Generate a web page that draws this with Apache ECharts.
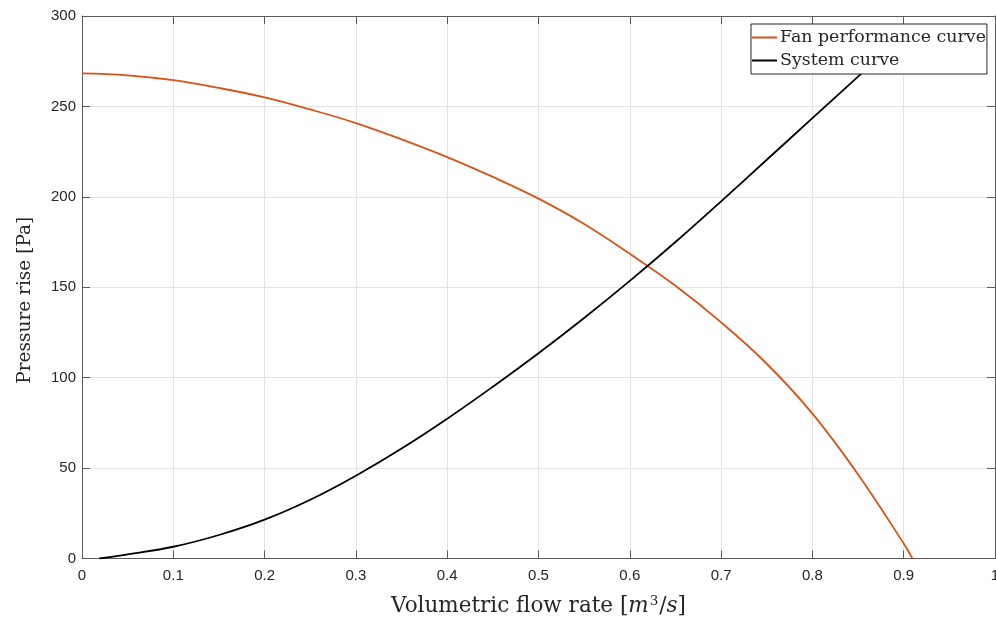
<!DOCTYPE html>
<html>
<head>
<meta charset="utf-8">
<script src="https://cdn.jsdelivr.net/npm/echarts@6/dist/echarts.min.js"></script>
<style>
  html, body { margin: 0; padding: 0; background: #fff; }
  #chart { width: 996px; height: 619px; }
</style>
</head>
<body>
<div id="chart"></div>
<script>
// Fan performance curve: flow rate [m^3/s] vs pressure rise [Pa]
var fanFlow = [0, 0.05, 0.1, 0.15, 0.2, 0.25, 0.3, 0.35, 0.4, 0.45, 0.5, 0.55, 0.6, 0.65, 0.7, 0.75, 0.8, 0.85, 0.9, 0.9095];
var fanPressure = [268.3, 267.2, 264.5, 260.2, 255, 248.3, 240.8, 231.8, 222, 211, 199, 185, 168.5, 150.8, 130.6, 107.7, 80.1, 46.5, 8.3, 0];

// System curve
var sysFlow = [0.019, 0.05, 0.1, 0.15, 0.2, 0.25, 0.3, 0.35, 0.4, 0.45, 0.5, 0.55, 0.6, 0.65, 0.7, 0.75, 0.8, 0.85, 0.9];
var sysPressure = [0, 2.3, 6.5, 13, 21.5, 32.5, 45.8, 60.8, 77.3, 95, 113.5, 133, 153.5, 175, 197.5, 220.5, 243.5, 266.5, 289.5];

var xTicks = [0, 0.1, 0.2, 0.3, 0.4, 0.5, 0.6, 0.7, 0.8, 0.9, 1];
var yTicks = [0, 50, 100, 150, 200, 250, 300];

var seriesNames = ['Fan performance curve', 'System curve'];

function pairs(xs, ys) {
  return xs.map(function (x, i) { return [x, ys[i]]; });
}

var axisColor = '#5a5a5a';
var labelFont = { fontFamily: 'Liberation Sans', fontSize: 15, color: '#262626' };
var serif = 'DejaVu Serif';

function xAxisBase(pos, showLabels) {
  return {
    type: 'value', position: pos, min: xTicks[0], max: xTicks[xTicks.length - 1], interval: 0.1,
    axisLine: { show: true, onZero: false, lineStyle: { color: axisColor, width: 1 } },
    axisTick: { show: true, inside: true, length: 8, lineStyle: { color: axisColor } },
    axisLabel: Object.assign({ show: showLabels, margin: 10,
      formatter: function (v) { return v === 0 ? '0' : (v === 1 ? '1' : v.toFixed(1)); } }, labelFont),
    splitLine: { show: showLabels, lineStyle: { color: '#e3e3e3', width: 1 } }
  };
}
function yAxisBase(pos, showLabels) {
  return {
    type: 'value', position: pos, min: yTicks[0], max: yTicks[yTicks.length - 1], interval: 50,
    axisLine: { show: true, onZero: false, lineStyle: { color: axisColor, width: 1 } },
    axisTick: { show: true, inside: true, length: 8, lineStyle: { color: axisColor } },
    axisLabel: Object.assign({ show: showLabels, margin: 6 }, labelFont),
    splitLine: { show: showLabels, lineStyle: { color: '#e3e3e3', width: 1 } }
  };
}

var xMain = xAxisBase('bottom', true);
xMain.name = '{t|Volumetric flow rate [}{i|m}{s|3}{t|/}{i|s}{t|]}';
xMain.nameLocation = 'middle';
xMain.nameGap = 36;
xMain.nameTextStyle = {
  rich: {
    t: { fontFamily: serif, fontSize: 21.5, color: '#262626' },
    i: { fontFamily: serif, fontSize: 21.5, fontStyle: 'italic', color: '#262626' },
    s: { fontFamily: serif, fontSize: 13.5, color: '#262626', verticalAlign: 'top', padding: [0, 1, 10, 1] }
  }
};

var yMain = yAxisBase('left', true);
yMain.name = 'Pressure rise [Pa]';
yMain.nameLocation = 'middle';
yMain.nameGap = 47;
yMain.nameTextStyle = { fontFamily: serif, fontSize: 18.5, color: '#262626', padding: [0, 26, 0, 0] };

var chart = echarts.init(document.getElementById('chart'), null, { renderer: 'canvas' });
chart.setOption({
  animation: false,
  backgroundColor: '#ffffff',
  grid: { left: 82, top: 16, right: 1, bottom: 60.5, containLabel: false, outerBoundsMode: 'none' },
  xAxis: [xMain, xAxisBase('top', false)],
  yAxis: [yMain, yAxisBase('right', false)],
  legend: {
    orient: 'vertical',
    left: 751, top: 24,
    backgroundColor: '#ffffff',
    borderColor: '#262626', borderWidth: 1,
    padding: [5, 1, 5, 1],
    itemWidth: 25, itemHeight: 2, itemGap: 6,
    textStyle: { fontFamily: serif, fontSize: 17.4, color: '#262626', padding: [0, 0, 0, -2] },
    data: seriesNames.map(function (n) { return { name: n, icon: 'rect' }; }),
    z: 10
  },
  series: [
    {
      name: seriesNames[0], type: 'line', xAxisIndex: 0, yAxisIndex: 0,
      data: pairs(fanFlow, fanPressure),
      showSymbol: false, symbol: 'none', smooth: 0.4,
      lineStyle: { color: '#D95319', width: 1.8 }, itemStyle: { color: '#D95319' },
      clip: true
    },
    {
      name: seriesNames[1], type: 'line', xAxisIndex: 0, yAxisIndex: 0,
      data: pairs(sysFlow, sysPressure),
      showSymbol: false, symbol: 'none', smooth: 0.4,
      lineStyle: { color: '#000000', width: 1.8 }, itemStyle: { color: '#000000' },
      clip: true
    }
  ]
});
</script>
</body>
</html>
